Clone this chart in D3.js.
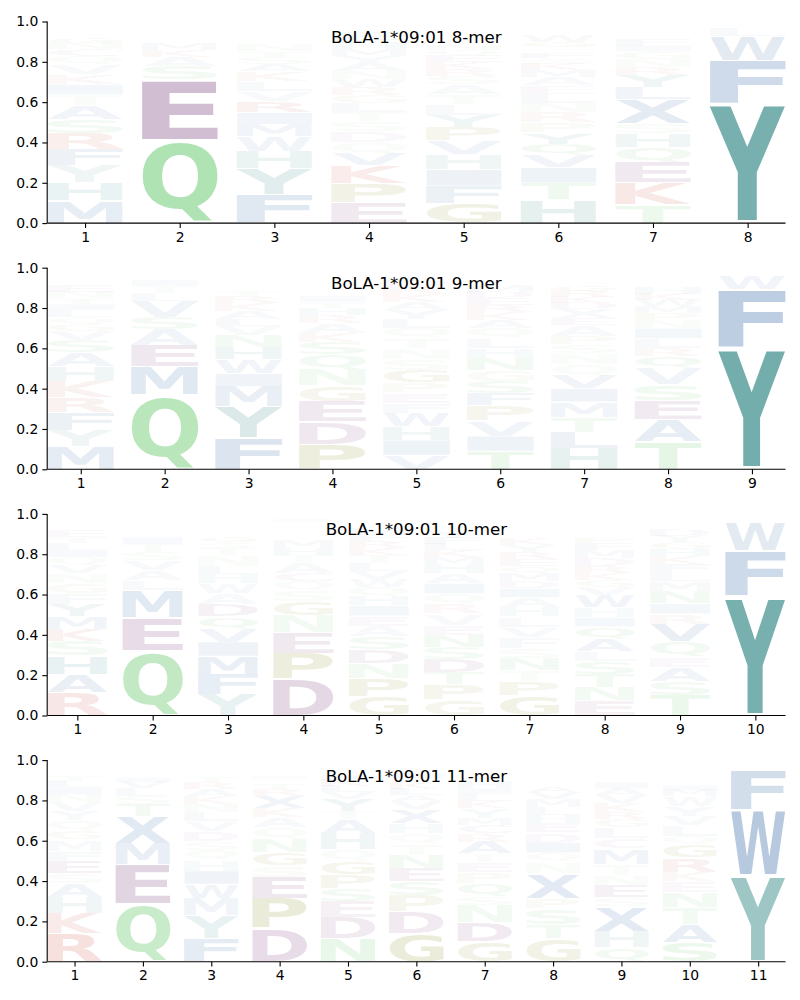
<!DOCTYPE html>
<html>
<head>
<meta charset="utf-8">
<script src="https://cdn.jsdelivr.net/npm/d3@7"></script>
<style>
  body { margin: 0; background: #fff; }
  svg { display: block; font-family: "DejaVu Sans", sans-serif; }
</style>
</head>
<body>
<div id="logo"></div>
<script>
// letters of each column, listed bottom -> top, with their probability
var titles = ["BoLA-1*09:01 8-mer", "BoLA-1*09:01 9-mer", "BoLA-1*09:01 10-mer", "BoLA-1*09:01 11-mer"]

var letters8 = ["MHYFRSATIKVQCNGLEDWP", "QESAKMRTLNDVGHIFYWCP", "FYHWMIRVLKASTNQGEDPC", "EPKVQDSTLGRWNAYMHFIC",
  "GFIHVPYLTASRKEQNMWDC", "HTIVQYPRNLEAMKSFDGWC", "TKEQHSXLYRNGIFAMDCWP", "YFWLMIHQKRSTAV"]
var probs8 = [
  [.11, .09, .085, .08, .078, .07, .07, .055, .05, .05, .048, .04, .035, .03, .028, .025, .02, .018, .012, .01],
  [.41, .30, .07, .045, .035, .03, .025, .02, .015, .012, .01, .008, .006, .005, .004, .003, .002, .002, .001, .001],
  [.14, .13, .085, .075, .06, .058, .057, .05, .05, .048, .035, .035, .03, .03, .025, .022, .02, .018, .015, .01],
  [.10, .095, .09, .06, .055, .055, .05, .045, .045, .04, .04, .04, .04, .04, .035, .035, .03, .03, .025, .02],
  [.10, .085, .08, .075, .07, .065, .06, .055, .05, .05, .04, .035, .032, .03, .03, .027, .025, .022, .02, .015],
  [.115, .085, .075, .06, .058, .057, .05, .05, .045, .045, .042, .04, .035, .03, .03, .028, .025, .03, .03, .025],
  [.09, .11, .10, .075, .07, .05, .12, .06, .06, .04, .04, .035, .03, .03, .025, .02, .015, .012, .01, .008],
  [.59, .215, .12, .04, .01, .008, .004, .002, .002, .002, .002, .002, .001, .001]
]

var letters9 = ["MYFRKHASVGQLITNEDWPC", "QMEASVLTIRKNGDHFYCWP", "FYMIWHNVLAKRTSQGEDPC", "PDEGNQSKARHTIVLYMFWC",
  "VIHWFEPGSNTQLYAKRDMC", "TIVPFSGNHLQAKREDMWYC", "HLTMIVQNSPAEXDKRGFYWC", "TAESVQRLINPMWKHGYDFC", "YFWLMHIQKRST"]
var probs9 = [
  [.115, .08, .085, .075, .08, .075, .07, .06, .045, .035, .035, .035, .03, .03, .03, .03, .025, .02, .015, .01],
  [.37, .14, .105, .08, .06, .08, .04, .035, .03, .01, .01, .008, .007, .006, .005, .005, .004, .003, .002, .002],
  [.155, .155, .10, .065, .07, .06, .06, .045, .035, .04, .04, .035, .03, .025, .02, .02, .015, .01, .01, .01],
  [.125, .11, .10, .08, .08, .075, .06, .045, .05, .04, .035, .03, .03, .025, .025, .02, .02, .02, .015, .015],
  [.07, .075, .07, .065, .05, .05, .05, .06, .055, .055, .05, .05, .045, .045, .04, .04, .035, .035, .025, .015],
  [.09, .075, .075, .075, .06, .06, .055, .06, .05, .05, .05, .04, .04, .035, .035, .03, .03, .025, .02, .015],
  [.105, .08, .075, .075, .065, .065, .055, .055, .045, .04, .055, .035, .045, .03, .03, .03, .03, .025, .025, .02, .015],
  [.135, .11, .095, .08, .08, .06, .04, .05, .05, .04, .035, .035, .03, .03, .03, .025, .025, .02, .02, .01],
  [.60, .295, .07, .01, .008, .005, .004, .002, .002, .001, .001, .001]
]

var letters10 = ["RAHSKMYFGNVQILTEDPWC", "QEMLAVSTIKRNGDHFYWCP", "YFMIVQDAWHLNTSGRKECP", "DPENGSQCATHMKRLVIYFW",
  "GPNDSAEIHQWVLTKRFMYC", "GPTDSNEVRQIAHMKLFYWC", "GPTNSFVLHAIDMQERYKWC", "ENTSLAQIHWVGKRDMFPYC",
  "TSAEQVRINMLFKHGYDWPC", "YFWLMHIQKRST"]
var probs10 = [
  [.115, .09, .09, .075, .06, .06, .06, .055, .05, .05, .04, .04, .035, .035, .03, .03, .025, .025, .02, .015],
  [.32, .165, .135, .05, .05, .05, .04, .04, .035, .015, .015, .015, .012, .01, .01, .01, .01, .008, .005, .005],
  [.105, .10, .09, .07, .065, .06, .06, .055, .05, .045, .04, .055, .035, .03, .03, .025, .025, .02, .02, .015],
  [.18, .13, .10, .085, .07, .055, .045, .04, .055, .035, .035, .04, .025, .02, .025, .02, .015, .01, .01, .01],
  [.095, .09, .075, .065, .065, .055, .05, .05, .045, .045, .04, .04, .04, .04, .035, .035, .03, .03, .025, .02],
  [.08, .075, .06, .065, .06, .06, .05, .055, .05, .05, .05, .05, .045, .035, .035, .03, .03, .03, .025, .02],
  [.10, .07, .055, .06, .05, .055, .05, .05, .045, .05, .045, .035, .04, .035, .035, .035, .035, .03, .025, .02],
  [.075, .065, .065, .065, .05, .06, .06, .045, .05, .06, .04, .035, .035, .035, .04, .04, .035, .03, .025, .02],
  [.10, .07, .07, .05, .075, .09, .05, .05, .06, .05, .04, .045, .04, .035, .035, .03, .03, .025, .025, .015],
  [.59, .225, .14, .01, .008, .005, .004, .002, .002, .001, .001, .001]
]

var letters11 = ["RKHASEFMGQYVNILTDPWC", "QEMXTSLVIKRNAGDHFYWCP", "FYMWIHQSDVLNKARTGECP", "DPESGNQAKXRTLIMHYFWCV",
  "NDESPGQHATYVLKIMRFWC", "GDPSENTQHXVALKRIMYFWC", "GDNSQPETARCMYKLIHVFW", "GTSPXNQIDEHLMVAKRFYWC",
  "QHXSENTMCLGRKVAIYFDPW", "SATNEKRGQLVYWMIFHDPC", "YWFLMHIQKRST"]
var probs11 = [
  [.14, .10, .08, .07, .05, .06, .05, .055, .045, .05, .045, .045, .04, .035, .03, .03, .025, .02, .02, .01],
  [.285, .195, .105, .135, .06, .04, .04, .03, .025, .015, .012, .01, .01, .008, .008, .007, .006, .005, .004, .003, .003],
  [.115, .115, .085, .07, .065, .055, .05, .04, .05, .05, .045, .04, .04, .035, .035, .03, .025, .02, .015, .015],
  [.165, .15, .105, .055, .065, .07, .055, .05, .045, .06, .035, .03, .02, .02, .02, .015, .015, .01, .01, .01, .01],
  [.115, .105, .08, .065, .07, .065, .055, .08, .07, .04, .06, .035, .03, .03, .025, .02, .02, .015, .01, .01],
  [.14, .11, .08, .07, .065, .065, .055, .05, .05, .07, .04, .03, .03, .03, .025, .025, .02, .015, .015, .01, .01],
  [.10, .095, .085, .045, .065, .055, .05, .04, .06, .04, .04, .035, .05, .035, .035, .03, .03, .025, .02, .015],
  [.115, .07, .08, .05, .125, .055, .045, .05, .05, .045, .04, .04, .04, .035, .03, .025, .025, .025, .02, .015, .01],
  [.07, .08, .125, .045, .06, .05, .055, .075, .05, .055, .04, .035, .045, .04, .035, .03, .025, .025, .02, .015, .01],
  [.095, .09, .085, .075, .055, .045, .07, .065, .04, .055, .045, .05, .05, .03, .025, .025, .02, .015, .01, .01],
  [.425, .325, .20, .015, .01, .005, .004, .002, .002, .002, .001, .001]
]

var yTicks = [0, 0.2, 0.4, 0.6, 0.8, 1.0]

// amino acid groups (chemistry colour scheme)
var colorGroups = [
  ["DEC", "#6b296b"],
  ["PG", "#787800"],
  ["MIWALFVX", "#21599c"],
  ["NTSQ", "#40ba47"],
  ["RK", "#bd2e1f"],
  ["HY", "#177875"]
]
function letterColor(ch) {
  for (var i = 0; i < colorGroups.length; i++) {
    if (colorGroups[i][0].indexOf(ch) > -1) return colorGroups[i][1];
  }
  return "#888888";
}

var panels = [
  { title: titles[0], letters: letters8, probs: probs8 },
  { title: titles[1], letters: letters9, probs: probs9 },
  { title: titles[2], letters: letters10, probs: probs10 },
  { title: titles[3], letters: letters11, probs: probs11 }
]

var width = 800, height = 1000
var left = 47.2, right = 785.5
var top0 = 21.5, step = 246.2, plotH = 201.6
var letterW = 0.8, vpad = 0.05

// measure the ink box of each glyph so it can be stretched into its cell
var canvas = document.createElement("canvas")
var ctx = canvas.getContext("2d")
ctx.font = "bold 100px 'DejaVu Sans'"
var glyphs = {}
function glyphBox(ch) {
  if (!glyphs[ch]) {
    var m = ctx.measureText(ch)
    glyphs[ch] = {
      left: m.actualBoundingBoxLeft,
      w: m.actualBoundingBoxLeft + m.actualBoundingBoxRight,
      asc: m.actualBoundingBoxAscent,
      h: m.actualBoundingBoxAscent + m.actualBoundingBoxDescent
    }
  }
  return glyphs[ch]
}

var svg = d3.select("#logo").append("svg")
  .attr("width", width)
  .attr("height", height)

panels.forEach(function (p, pi) {
  var n = p.letters.length
  var top = top0 + pi * step

  var x = d3.scaleLinear().domain([0.6, n + 0.4]).range([left, right])
  var y = d3.scaleLinear().domain([0, 1]).range([top + plotH, top])

  var g = svg.append("g")

  // build stacked cells, bottom -> top
  var cells = []
  p.letters.forEach(function (col, ci) {
    var floor = 0
    for (var k = 0; k < col.length; k++) {
      var v = p.probs[ci][k]
      cells.push({ pos: ci + 1, ch: col[k], y0: floor, y1: floor + v, v: v })
      floor += v
    }
  })

  g.selectAll("text.glyph")
    .data(cells)
    .enter()
    .append("text")
    .attr("class", "glyph")
    .text(function (d) { return d.ch })
    .style("font-family", "'DejaVu Sans'")
    .style("font-weight", "bold")
    .style("font-size", "100px")
    .attr("fill", function (d) { return letterColor(d.ch) })
    .attr("fill-opacity", function (d) { return d.v })
    .attr("transform", function (d) {
      var b = glyphBox(d.ch)
      var pad = (d.y1 - d.y0) * vpad / 2
      var px = x(d.pos - letterW / 2)
      var pw = x(d.pos + letterW / 2) - px
      var py = y(d.y1 - pad)
      var ph = y(d.y0 + pad) - py
      return "translate(" + px + "," + py + ") scale(" + (pw / b.w) + "," + (ph / b.h) + ") translate(" + b.left + "," + b.asc + ")"
    })

  // axes, matplotlib style with only left and bottom spines
  var xAxis = d3.axisBottom(x)
    .tickValues(d3.range(1, n + 1))
    .tickFormat(d3.format("d"))
    .tickSize(4.9)
    .tickPadding(4)
  var yAxis = d3.axisLeft(y)
    .tickValues(yTicks)
    .tickFormat(d3.format(".1f"))
    .tickSize(4.9)
    .tickPadding(4)

  var xa = g.append("g")
    .attr("transform", "translate(0," + (top + plotH) + ")")
    .call(xAxis)
  var ya = g.append("g")
    .attr("transform", "translate(" + left + ",0)")
    .call(yAxis)

  ;[xa, ya].forEach(function (a) {
    a.select(".domain").attr("stroke", "#000").attr("stroke-width", 1.1)
      .attr("d", a === xa ? "M" + left + ",0H" + right : "M0," + y(1) + "V" + y(0))
    a.selectAll(".tick line").attr("stroke", "#000").attr("stroke-width", 1.1)
    a.selectAll(".tick text")
      .style("font-family", "'DejaVu Sans'")
      .style("font-size", "13.9px")
      .attr("fill", "#000")
  })

  g.append("text")
    .attr("x", (left + right) / 2)
    .attr("y", top + 21.5)
    .attr("text-anchor", "middle")
    .style("font-family", "'DejaVu Sans'")
    .style("font-size", "16.7px")
    .text(p.title)
})
</script>
</body>
</html>
